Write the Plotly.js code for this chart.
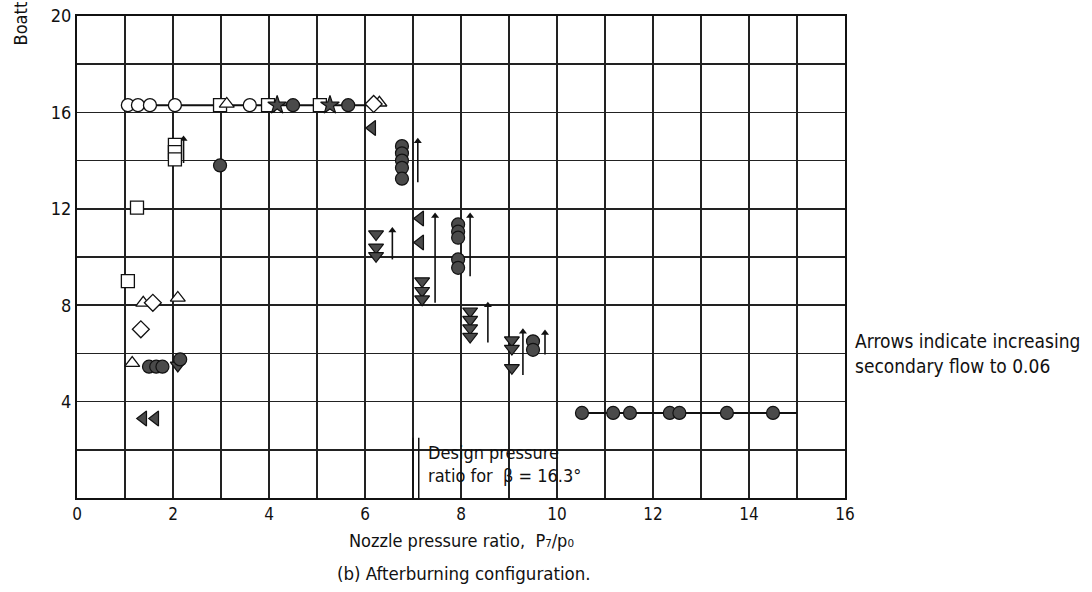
<!DOCTYPE html>
<html>
<head>
<meta charset="utf-8">
<script src="https://cdn.plot.ly/plotly-3.0.1.min.js"></script>
<style>html,body{margin:0;padding:0;background:#fff;}#chart{width:1092px;height:592px;}</style>
</head>
<body>
<div id="chart"></div>
<script>
// ---- data ----
const xTickVals = [0, 2, 4, 6, 8, 10, 12, 14, 16];
const xMinorVals = [1, 3, 5, 7, 9, 11, 13, 15];
const yTickVals = [4, 8, 12, 16, 20];
const yMinorVals = [2, 6, 10, 14, 18];

const openCircleX = [1.06, 1.27, 1.52, 2.04, 3.6];
const openCircleY = [16.3, 16.3, 16.3, 16.3, 16.3];
const openSquareX = [2.98, 3.98, 5.06, 2.04, 2.04, 2.04, 1.25, 1.06];
const openSquareY = [16.3, 16.3, 16.3, 14.65, 14.35, 14.05, 12.05, 9.0];
const openTriangleX = [3.12, 6.3, 1.38, 2.1, 1.15];
const openTriangleY = [16.35, 16.4, 8.1, 8.3, 5.6];
const openDiamondX = [6.18, 1.58, 1.33];
const openDiamondY = [16.35, 8.1, 7.0];
const leftTriX = [6.15, 7.15, 7.15, 1.38, 1.63];
const leftTriY = [15.35, 11.6, 10.6, 3.3, 3.3];
const downTriX = [6.23, 6.23, 6.23, 7.19, 7.19, 7.19, 8.19, 8.19, 8.19, 8.19, 9.06, 9.06, 9.06, 2.1];
const downTriY = [10.95, 10.4, 10.05, 9.0, 8.6, 8.25, 7.75, 7.4, 7.05, 6.7, 6.55, 6.2, 5.4, 5.5];
const starX = [4.17, 5.27];
const starY = [16.3, 16.3];
const bulletX = [4.5, 5.65, 2.98, 6.77, 6.77, 6.77, 6.77, 6.77, 7.94, 7.94, 7.94, 7.94, 7.94, 9.5, 9.5, 1.5, 1.65, 1.78, 2.15];
const bulletY = [16.3, 16.3, 13.8, 14.6, 14.3, 14.0, 13.7, 13.25, 11.35, 11.05, 10.8, 9.9, 9.55, 6.5, 6.15, 5.45, 5.45, 5.45, 5.75];
const bottomRowX = [10.52, 11.17, 11.52, 12.35, 12.55, 13.54, 14.5];
const bottomRowY = [3.53, 3.53, 3.53, 3.53, 3.53, 3.53, 3.53];
const topLineX = [1.0, 6.3];
const topLineY = [16.3, 16.3];
const bottomLineX = [10.5, 15.0];
const bottomLineY = [3.53, 3.53];
const arrowX  = [2.22, 7.1, 6.57, 7.46, 8.19, 8.56, 9.29, 9.75];
const arrowY0 = [13.9, 13.1, 9.9, 8.1, 9.2, 6.45, 5.1, 5.95];
const arrowY1 = [14.9, 14.8, 11.1, 11.7, 11.7, 8.0, 6.9, 6.85];
const designX = [7.0, 7.12];
const designTop = 2.5;

// ---- styling ----
const FONT = '"DejaVu Sans Condensed", "Liberation Sans Narrow", "DejaVu Sans", sans-serif';
const FILL = '#4a4a4a';
const INK = '#111';
const GRID = '#222';
const MS = 13;
function openTrace(x, y, sym) {
  return {x, y, type:'scatter', mode:'markers', hoverinfo:'skip', showlegend:false,
    marker:{symbol:sym, size:MS, color:'#fff', line:{color:INK, width:1.3}}};
}
function filledTrace(x, y, sym, size) {
  return {x, y, type:'scatter', mode:'markers', hoverinfo:'skip', showlegend:false,
    marker:{symbol:sym, size:size||MS, color:FILL, line:{color:INK, width:1.2}}};
}
const lineStyle = {color:INK, width:2};

// arrows: shafts as one line trace (null-separated), heads as small triangles
const shaftX = [], shaftY = [];
for (let i = 0; i < arrowX.length; i++) {
  shaftX.push(arrowX[i], arrowX[i], null);
  shaftY.push(arrowY0[i], arrowY1[i], null);
}

const traces = [
  {x: topLineX, y: topLineY, type:'scatter', mode:'lines', line:lineStyle, hoverinfo:'skip', showlegend:false},
  {x: bottomLineX, y: bottomLineY, type:'scatter', mode:'lines', line:lineStyle, hoverinfo:'skip', showlegend:false},
  {x: shaftX, y: shaftY, type:'scatter', mode:'lines', line:{color:INK, width:1.6}, connectgaps:false, hoverinfo:'skip', showlegend:false},
  {x: arrowX, y: arrowY1, type:'scatter', mode:'markers', hoverinfo:'skip', showlegend:false,
    marker:{symbol:'triangle-up', size:7, color:INK, line:{width:0}}},
  openTrace(openCircleX, openCircleY, 'circle'),
  openTrace(openSquareX, openSquareY, 'square'),
  openTrace(openTriangleX, openTriangleY, 'triangle-up'),
  openTrace(openDiamondX, openDiamondY, 'diamond'),
  filledTrace(leftTriX, leftTriY, 'triangle-left'),
  filledTrace(downTriX, downTriY, 'triangle-down'),
  filledTrace(starX, starY, 'star', 14),
  filledTrace(bulletX, bulletY, 'circle'),
  filledTrace(bottomRowX, bottomRowY, 'circle')
];

const annotations = [
  {xref:'x', yref:'y', x:7.28, y:1.4, xanchor:'left', yanchor:'middle', align:'left', showarrow:false,
   text:'Design pressure<br>ratio for  β = 16.3°', font:{family:FONT, size:18, color:INK}},
  {xref:'paper', yref:'paper', x:1.0104, y:0.30, xanchor:'left', yanchor:'middle', align:'left', showarrow:false,
   text:'Arrows indicate increasing<br>secondary flow to 0.06', font:{family:FONT, size:19, color:INK}},
  {xref:'paper', yref:'paper', x:0.5, y:-0.088, xanchor:'center', yanchor:'middle', showarrow:false,
   text:'Nozzle pressure ratio,  P₇/p₀', font:{family:FONT, size:18, color:INK}},
  {xref:'paper', yref:'paper', x:0.504, y:-0.157, xanchor:'center', yanchor:'middle', showarrow:false,
   text:'(b) Afterburning configuration.', font:{family:FONT, size:18.5, color:INK}},
  {xref:'paper', yref:'paper', x:-0.074, y:0.985, xanchor:'center', yanchor:'middle', showarrow:false,
   textangle:-90, text:'Boatt', font:{family:FONT, size:18, color:INK}}
];

const shapes = designX.map(v => ({type:'line', xref:'x', yref:'y', x0:v, x1:v, y0:0, y1:designTop,
  line:{color:INK, width:1.5}}));

const layout = {
  width:1092, height:592,
  margin:{l:77, r:247, t:16, b:94},
  paper_bgcolor:'#fff', plot_bgcolor:'#fff',
  font:{family:FONT, size:18, color:INK},
  xaxis:{range:[0,16], tickmode:'array', tickvals:xTickVals, showgrid:true, gridcolor:GRID, gridwidth:1.6,
    minor:{tickmode:'array', tickvals:xMinorVals, showgrid:true, gridcolor:GRID, gridwidth:1.6, ticks:''},
    zeroline:false, showline:true, linecolor:INK, linewidth:2, mirror:true, ticks:'', ticklen:0,
    tickfont:{family:FONT, size:17, color:INK}, fixedrange:true},
  yaxis:{range:[0,20], tickmode:'array', tickvals:yTickVals, showgrid:true, gridcolor:GRID, gridwidth:1.6,
    minor:{tickmode:'array', tickvals:yMinorVals, showgrid:true, gridcolor:GRID, gridwidth:1.6, ticks:''},
    zeroline:false, showline:true, linecolor:INK, linewidth:2, mirror:true, ticks:'', ticklen:0,
    tickfont:{family:FONT, size:18, color:INK}, fixedrange:true},
  annotations, shapes,
  showlegend:false
};
Plotly.newPlot('chart', traces, layout, {staticPlot:true, displayModeBar:false});
</script>
</body>
</html>
